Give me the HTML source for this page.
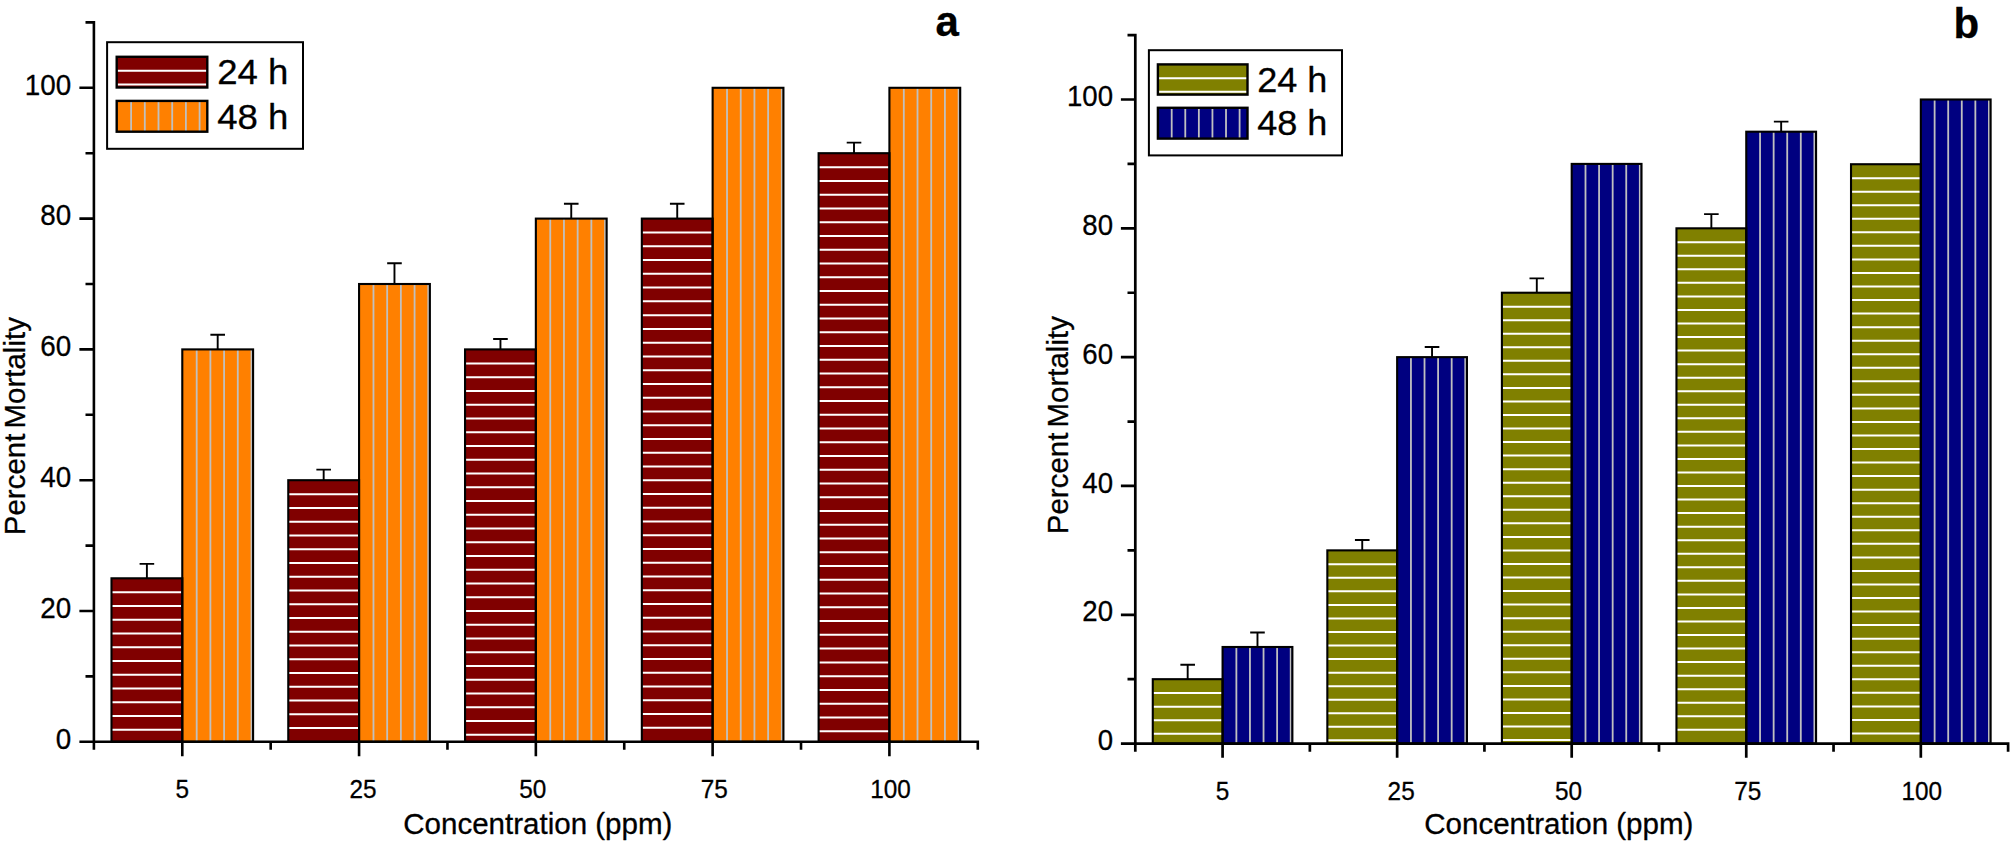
<!DOCTYPE html>
<html lang="en">
<head>
<meta charset="utf-8">
<title>Percent mortality vs concentration</title>
<style>
html,body{margin:0;padding:0;background:#fff;}
body{width:2011px;height:841px;overflow:hidden;}
svg{display:block;}
svg text{font-family:"Liberation Sans", Arial, Helvetica, sans-serif;fill:#000;stroke:#000;stroke-width:.3px;stroke-linejoin:round;}
</style>
</head>
<body>
<svg width="2011" height="841" viewBox="0 0 2011 841">
<rect width="2011" height="841" fill="#fff"/>
<g id="chart-a">
<rect x="111.49" y="578.3" width="70.8" height="163.5" fill="#800000"/>
<path d="M111.49 592.3H182.29M111.49 606.05H182.29M111.49 619.81H182.29M111.49 633.56H182.29M111.49 647.32H182.29M111.49 661.07H182.29M111.49 674.83H182.29M111.49 688.58H182.29M111.49 702.34H182.29M111.49 716.09H182.29M111.49 729.85H182.29" stroke="#ffffff" stroke-width="2.0" fill="none"/>
<rect x="182.29" y="349.4" width="70.8" height="392.4" fill="#ff8000"/>
<path d="M196.69 349.4V741.8M210.39 349.4V741.8M224.09 349.4V741.8M237.79 349.4V741.8M251.49 349.4V741.8" stroke="#c0c0c0" stroke-width="1.8" fill="none"/>
<rect x="111.49" y="578.3" width="70.8" height="163.5" fill="none" stroke="#000" stroke-width="2.1"/>
<rect x="182.29" y="349.4" width="70.8" height="392.4" fill="none" stroke="#000" stroke-width="2.1"/>
<path d="M146.89 578.3V563.9M139.59 563.9H154.19" stroke="#000" stroke-width="1.9" fill="none"/>
<path d="M217.69 349.4V334.7M210.39 334.7H224.99" stroke="#000" stroke-width="1.9" fill="none"/>
<rect x="288.27" y="480.2" width="70.8" height="261.6" fill="#800000"/>
<path d="M288.27 494.2H359.07M288.27 507.95H359.07M288.27 521.71H359.07M288.27 535.46H359.07M288.27 549.22H359.07M288.27 562.97H359.07M288.27 576.73H359.07M288.27 590.48H359.07M288.27 604.24H359.07M288.27 617.99H359.07M288.27 631.75H359.07M288.27 645.5H359.07M288.27 659.26H359.07M288.27 673.01H359.07M288.27 686.77H359.07M288.27 700.52H359.07M288.27 714.28H359.07M288.27 728.03H359.07" stroke="#ffffff" stroke-width="2.0" fill="none"/>
<rect x="359.07" y="284" width="70.8" height="457.8" fill="#ff8000"/>
<path d="M373.47 284V741.8M387.17 284V741.8M400.87 284V741.8M414.57 284V741.8M428.27 284V741.8" stroke="#c0c0c0" stroke-width="1.8" fill="none"/>
<rect x="288.27" y="480.2" width="70.8" height="261.6" fill="none" stroke="#000" stroke-width="2.1"/>
<rect x="359.07" y="284" width="70.8" height="457.8" fill="none" stroke="#000" stroke-width="2.1"/>
<path d="M323.67 480.2V469.6M316.37 469.6H330.97" stroke="#000" stroke-width="1.9" fill="none"/>
<path d="M394.47 284V263.2M387.17 263.2H401.77" stroke="#000" stroke-width="1.9" fill="none"/>
<rect x="465.05" y="349.4" width="70.8" height="392.4" fill="#800000"/>
<path d="M465.05 363.4H535.85M465.05 377.15H535.85M465.05 390.91H535.85M465.05 404.66H535.85M465.05 418.42H535.85M465.05 432.17H535.85M465.05 445.93H535.85M465.05 459.69H535.85M465.05 473.44H535.85M465.05 487.19H535.85M465.05 500.95H535.85M465.05 514.7H535.85M465.05 528.46H535.85M465.05 542.21H535.85M465.05 555.97H535.85M465.05 569.73H535.85M465.05 583.48H535.85M465.05 597.24H535.85M465.05 610.99H535.85M465.05 624.75H535.85M465.05 638.5H535.85M465.05 652.25H535.85M465.05 666.01H535.85M465.05 679.76H535.85M465.05 693.52H535.85M465.05 707.27H535.85M465.05 721.03H535.85M465.05 734.79H535.85" stroke="#ffffff" stroke-width="2.0" fill="none"/>
<rect x="535.85" y="218.6" width="70.8" height="523.2" fill="#ff8000"/>
<path d="M550.25 218.6V741.8M563.95 218.6V741.8M577.65 218.6V741.8M591.35 218.6V741.8M605.05 218.6V741.8" stroke="#c0c0c0" stroke-width="1.8" fill="none"/>
<rect x="465.05" y="349.4" width="70.8" height="392.4" fill="none" stroke="#000" stroke-width="2.1"/>
<rect x="535.85" y="218.6" width="70.8" height="523.2" fill="none" stroke="#000" stroke-width="2.1"/>
<path d="M500.45 349.4V339M493.15 339H507.75" stroke="#000" stroke-width="1.9" fill="none"/>
<path d="M571.25 218.6V203.8M563.95 203.8H578.55" stroke="#000" stroke-width="1.9" fill="none"/>
<rect x="641.83" y="218.6" width="70.8" height="523.2" fill="#800000"/>
<path d="M641.83 232.6H712.63M641.83 246.35H712.63M641.83 260.11H712.63M641.83 273.86H712.63M641.83 287.62H712.63M641.83 301.37H712.63M641.83 315.13H712.63M641.83 328.88H712.63M641.83 342.64H712.63M641.83 356.39H712.63M641.83 370.15H712.63M641.83 383.9H712.63M641.83 397.66H712.63M641.83 411.41H712.63M641.83 425.17H712.63M641.83 438.92H712.63M641.83 452.68H712.63M641.83 466.43H712.63M641.83 480.19H712.63M641.83 493.94H712.63M641.83 507.7H712.63M641.83 521.45H712.63M641.83 535.21H712.63M641.83 548.96H712.63M641.83 562.72H712.63M641.83 576.47H712.63M641.83 590.23H712.63M641.83 603.98H712.63M641.83 617.74H712.63M641.83 631.49H712.63M641.83 645.25H712.63M641.83 659H712.63M641.83 672.76H712.63M641.83 686.51H712.63M641.83 700.27H712.63M641.83 714.02H712.63M641.83 727.78H712.63" stroke="#ffffff" stroke-width="2.0" fill="none"/>
<rect x="712.63" y="87.8" width="70.8" height="654" fill="#ff8000"/>
<path d="M727.03 87.8V741.8M740.73 87.8V741.8M754.43 87.8V741.8M768.13 87.8V741.8M781.83 87.8V741.8" stroke="#c0c0c0" stroke-width="1.8" fill="none"/>
<rect x="641.83" y="218.6" width="70.8" height="523.2" fill="none" stroke="#000" stroke-width="2.1"/>
<rect x="712.63" y="87.8" width="70.8" height="654" fill="none" stroke="#000" stroke-width="2.1"/>
<path d="M677.23 218.6V203.8M669.93 203.8H684.53" stroke="#000" stroke-width="1.9" fill="none"/>
<rect x="818.61" y="153.2" width="70.8" height="588.6" fill="#800000"/>
<path d="M818.61 167.2H889.41M818.61 180.95H889.41M818.61 194.71H889.41M818.61 208.46H889.41M818.61 222.22H889.41M818.61 235.97H889.41M818.61 249.73H889.41M818.61 263.48H889.41M818.61 277.24H889.41M818.61 290.99H889.41M818.61 304.75H889.41M818.61 318.5H889.41M818.61 332.26H889.41M818.61 346.01H889.41M818.61 359.77H889.41M818.61 373.52H889.41M818.61 387.28H889.41M818.61 401.03H889.41M818.61 414.79H889.41M818.61 428.54H889.41M818.61 442.3H889.41M818.61 456.05H889.41M818.61 469.81H889.41M818.61 483.56H889.41M818.61 497.32H889.41M818.61 511.07H889.41M818.61 524.83H889.41M818.61 538.59H889.41M818.61 552.34H889.41M818.61 566.1H889.41M818.61 579.85H889.41M818.61 593.61H889.41M818.61 607.36H889.41M818.61 621.12H889.41M818.61 634.87H889.41M818.61 648.62H889.41M818.61 662.38H889.41M818.61 676.13H889.41M818.61 689.89H889.41M818.61 703.64H889.41M818.61 717.4H889.41M818.61 731.15H889.41" stroke="#ffffff" stroke-width="2.0" fill="none"/>
<rect x="889.41" y="87.8" width="70.8" height="654" fill="#ff8000"/>
<path d="M903.81 87.8V741.8M917.51 87.8V741.8M931.21 87.8V741.8M944.91 87.8V741.8M958.61 87.8V741.8" stroke="#c0c0c0" stroke-width="1.8" fill="none"/>
<rect x="818.61" y="153.2" width="70.8" height="588.6" fill="none" stroke="#000" stroke-width="2.1"/>
<rect x="889.41" y="87.8" width="70.8" height="654" fill="none" stroke="#000" stroke-width="2.1"/>
<path d="M854.01 153.2V142.6M846.71 142.6H861.31" stroke="#000" stroke-width="1.9" fill="none"/>
<path d="M79.4 741.8H979.1M93.9 21.1V749.7M182.29 741.8V756.2M270.68 741.8V749.7M359.07 741.8V756.2M447.46 741.8V749.7M535.85 741.8V756.2M624.24 741.8V749.7M712.63 741.8V756.2M801.02 741.8V749.7M889.41 741.8V756.2M977.8 741.8V749.7M93.9 676.4H85.5M93.9 611H79.4M93.9 545.6H85.5M93.9 480.2H79.4M93.9 414.8H85.5M93.9 349.4H79.4M93.9 284H85.5M93.9 218.6H79.4M93.9 153.2H85.5M93.9 87.8H79.4M93.9 22.4H85.5" stroke="#000" stroke-width="2.6" fill="none"/>
<text transform="translate(71.1 748.6) scale(0.965 1)" font-size="28.8" text-anchor="end">0</text>
<text transform="translate(71.1 617.8) scale(0.965 1)" font-size="28.8" text-anchor="end">20</text>
<text transform="translate(71.1 487) scale(0.965 1)" font-size="28.8" text-anchor="end">40</text>
<text transform="translate(71.1 356.2) scale(0.965 1)" font-size="28.8" text-anchor="end">60</text>
<text transform="translate(71.1 225.4) scale(0.965 1)" font-size="28.8" text-anchor="end">80</text>
<text transform="translate(71.1 94.6) scale(0.965 1)" font-size="28.8" text-anchor="end">100</text>
<text transform="translate(182.29 798.3) scale(0.965 1)" font-size="25.2" text-anchor="middle">5</text>
<text transform="translate(363.07 798.3) scale(0.965 1)" font-size="25.2" text-anchor="middle">25</text>
<text transform="translate(532.65 798.3) scale(0.965 1)" font-size="25.2" text-anchor="middle">50</text>
<text transform="translate(714.23 798.3) scale(0.965 1)" font-size="25.2" text-anchor="middle">75</text>
<text transform="translate(890.41 798.3) scale(0.965 1)" font-size="25.2" text-anchor="middle">100</text>
<text transform="translate(403.2 833.8) scale(0.998 1)" font-size="29.6">Concentration (ppm)</text>
<text transform="translate(25.2 535.2) rotate(-90) scale(0.989 1)" font-size="29.8" word-spacing="-3">Percent Mortality</text>
<text transform="translate(935.5 36.2)" font-size="42" font-weight="bold">a</text>
<rect x="107.1" y="42.2" width="195.9" height="106.6" fill="#fff" stroke="#000" stroke-width="2.0"/>
<rect x="116.7" y="56.8" width="90.6" height="30.7" fill="#800000"/>
<path d="M116.7 70.8H207.3M116.7 84.55H207.3" stroke="#ffffff" stroke-width="2.0" fill="none"/>
<rect x="116.7" y="56.8" width="90.6" height="30.7" fill="none" stroke="#000" stroke-width="2.4"/>
<text transform="translate(217.2 83.7) scale(1.03 1)" font-size="35.5">24 h</text>
<rect x="116.7" y="100.9" width="90.6" height="30.8" fill="#ff8000"/>
<path d="M131.1 100.9V131.7M144.8 100.9V131.7M158.5 100.9V131.7M172.2 100.9V131.7M185.9 100.9V131.7M199.6 100.9V131.7" stroke="#c0c0c0" stroke-width="1.8" fill="none"/>
<rect x="116.7" y="100.9" width="90.6" height="30.8" fill="none" stroke="#000" stroke-width="2.4"/>
<text transform="translate(217.2 128.7) scale(1.03 1)" font-size="35.5">48 h</text>
</g>
<g id="chart-b">
<rect x="1152.78" y="679.19" width="69.8" height="64.41" fill="#808000"/>
<path d="M1152.78 693.09H1222.58M1152.78 706.63H1222.58M1152.78 720.18H1222.58M1152.78 733.73H1222.58" stroke="#ffffff" stroke-width="2.0" fill="none"/>
<rect x="1222.58" y="646.99" width="69.8" height="96.62" fill="#000080"/>
<path d="M1236.38 646.99V743.6M1249.96 646.99V743.6M1263.54 646.99V743.6M1277.12 646.99V743.6M1290.7 646.99V743.6" stroke="#c0c0c0" stroke-width="1.8" fill="none"/>
<rect x="1152.78" y="679.19" width="69.8" height="64.41" fill="none" stroke="#000" stroke-width="2.1"/>
<rect x="1222.58" y="646.99" width="69.8" height="96.62" fill="none" stroke="#000" stroke-width="2.1"/>
<path d="M1187.68 679.19V664.69M1180.38 664.69H1194.98" stroke="#000" stroke-width="1.9" fill="none"/>
<path d="M1257.48 646.99V632.49M1250.18 632.49H1264.78" stroke="#000" stroke-width="1.9" fill="none"/>
<rect x="1327.34" y="550.37" width="69.8" height="193.23" fill="#808000"/>
<path d="M1327.34 564.27H1397.14M1327.34 577.81H1397.14M1327.34 591.36H1397.14M1327.34 604.9H1397.14M1327.34 618.45H1397.14M1327.34 632H1397.14M1327.34 645.54H1397.14M1327.34 659.09H1397.14M1327.34 672.63H1397.14M1327.34 686.17H1397.14M1327.34 699.72H1397.14M1327.34 713.26H1397.14M1327.34 726.81H1397.14M1327.34 740.36H1397.14" stroke="#ffffff" stroke-width="2.0" fill="none"/>
<rect x="1397.14" y="357.14" width="69.8" height="386.46" fill="#000080"/>
<path d="M1410.94 357.14V743.6M1424.52 357.14V743.6M1438.1 357.14V743.6M1451.68 357.14V743.6M1465.26 357.14V743.6" stroke="#c0c0c0" stroke-width="1.8" fill="none"/>
<rect x="1327.34" y="550.37" width="69.8" height="193.23" fill="none" stroke="#000" stroke-width="2.1"/>
<rect x="1397.14" y="357.14" width="69.8" height="386.46" fill="none" stroke="#000" stroke-width="2.1"/>
<path d="M1362.24 550.37V540.07M1354.94 540.07H1369.54" stroke="#000" stroke-width="1.9" fill="none"/>
<path d="M1432.04 357.14V347.04M1424.74 347.04H1439.34" stroke="#000" stroke-width="1.9" fill="none"/>
<rect x="1501.9" y="292.73" width="69.8" height="450.87" fill="#808000"/>
<path d="M1501.9 306.63H1571.7M1501.9 320.18H1571.7M1501.9 333.72H1571.7M1501.9 347.26H1571.7M1501.9 360.81H1571.7M1501.9 374.36H1571.7M1501.9 387.9H1571.7M1501.9 401.44H1571.7M1501.9 414.99H1571.7M1501.9 428.53H1571.7M1501.9 442.08H1571.7M1501.9 455.62H1571.7M1501.9 469.17H1571.7M1501.9 482.72H1571.7M1501.9 496.26H1571.7M1501.9 509.81H1571.7M1501.9 523.35H1571.7M1501.9 536.89H1571.7M1501.9 550.44H1571.7M1501.9 563.99H1571.7M1501.9 577.53H1571.7M1501.9 591.08H1571.7M1501.9 604.62H1571.7M1501.9 618.16H1571.7M1501.9 631.71H1571.7M1501.9 645.25H1571.7M1501.9 658.8H1571.7M1501.9 672.35H1571.7M1501.9 685.89H1571.7M1501.9 699.43H1571.7M1501.9 712.98H1571.7M1501.9 726.52H1571.7M1501.9 740.07H1571.7" stroke="#ffffff" stroke-width="2.0" fill="none"/>
<rect x="1571.7" y="163.91" width="69.8" height="579.69" fill="#000080"/>
<path d="M1585.5 163.91V743.6M1599.08 163.91V743.6M1612.66 163.91V743.6M1626.24 163.91V743.6M1639.82 163.91V743.6" stroke="#c0c0c0" stroke-width="1.8" fill="none"/>
<rect x="1501.9" y="292.73" width="69.8" height="450.87" fill="none" stroke="#000" stroke-width="2.1"/>
<rect x="1571.7" y="163.91" width="69.8" height="579.69" fill="none" stroke="#000" stroke-width="2.1"/>
<path d="M1536.8 292.73V278.33M1529.5 278.33H1544.1" stroke="#000" stroke-width="1.9" fill="none"/>
<rect x="1676.46" y="228.32" width="69.8" height="515.28" fill="#808000"/>
<path d="M1676.46 242.22H1746.26M1676.46 255.77H1746.26M1676.46 269.31H1746.26M1676.46 282.86H1746.26M1676.46 296.4H1746.26M1676.46 309.95H1746.26M1676.46 323.49H1746.26M1676.46 337.04H1746.26M1676.46 350.58H1746.26M1676.46 364.13H1746.26M1676.46 377.67H1746.26M1676.46 391.22H1746.26M1676.46 404.76H1746.26M1676.46 418.31H1746.26M1676.46 431.85H1746.26M1676.46 445.4H1746.26M1676.46 458.94H1746.26M1676.46 472.49H1746.26M1676.46 486.03H1746.26M1676.46 499.58H1746.26M1676.46 513.12H1746.26M1676.46 526.67H1746.26M1676.46 540.21H1746.26M1676.46 553.76H1746.26M1676.46 567.3H1746.26M1676.46 580.85H1746.26M1676.46 594.39H1746.26M1676.46 607.94H1746.26M1676.46 621.48H1746.26M1676.46 635.03H1746.26M1676.46 648.57H1746.26M1676.46 662.12H1746.26M1676.46 675.66H1746.26M1676.46 689.21H1746.26M1676.46 702.75H1746.26M1676.46 716.3H1746.26M1676.46 729.84H1746.26" stroke="#ffffff" stroke-width="2.0" fill="none"/>
<rect x="1746.26" y="131.71" width="69.8" height="611.89" fill="#000080"/>
<path d="M1760.06 131.71V743.6M1773.64 131.71V743.6M1787.22 131.71V743.6M1800.8 131.71V743.6M1814.38 131.71V743.6" stroke="#c0c0c0" stroke-width="1.8" fill="none"/>
<rect x="1676.46" y="228.32" width="69.8" height="515.28" fill="none" stroke="#000" stroke-width="2.1"/>
<rect x="1746.26" y="131.71" width="69.8" height="611.89" fill="none" stroke="#000" stroke-width="2.1"/>
<path d="M1711.36 228.32V214.12M1704.06 214.12H1718.66" stroke="#000" stroke-width="1.9" fill="none"/>
<path d="M1781.16 131.71V121.61M1773.86 121.61H1788.46" stroke="#000" stroke-width="1.9" fill="none"/>
<rect x="1851.02" y="164.23" width="69.8" height="579.37" fill="#808000"/>
<path d="M1851.02 178.13H1920.82M1851.02 191.68H1920.82M1851.02 205.22H1920.82M1851.02 218.77H1920.82M1851.02 232.31H1920.82M1851.02 245.86H1920.82M1851.02 259.4H1920.82M1851.02 272.95H1920.82M1851.02 286.49H1920.82M1851.02 300.04H1920.82M1851.02 313.58H1920.82M1851.02 327.13H1920.82M1851.02 340.67H1920.82M1851.02 354.22H1920.82M1851.02 367.76H1920.82M1851.02 381.31H1920.82M1851.02 394.85H1920.82M1851.02 408.4H1920.82M1851.02 421.94H1920.82M1851.02 435.49H1920.82M1851.02 449.03H1920.82M1851.02 462.58H1920.82M1851.02 476.12H1920.82M1851.02 489.67H1920.82M1851.02 503.21H1920.82M1851.02 516.76H1920.82M1851.02 530.3H1920.82M1851.02 543.85H1920.82M1851.02 557.39H1920.82M1851.02 570.94H1920.82M1851.02 584.48H1920.82M1851.02 598.03H1920.82M1851.02 611.57H1920.82M1851.02 625.12H1920.82M1851.02 638.66H1920.82M1851.02 652.21H1920.82M1851.02 665.75H1920.82M1851.02 679.3H1920.82M1851.02 692.84H1920.82M1851.02 706.39H1920.82M1851.02 719.93H1920.82M1851.02 733.48H1920.82" stroke="#ffffff" stroke-width="2.0" fill="none"/>
<rect x="1920.82" y="99.5" width="69.8" height="644.1" fill="#000080"/>
<path d="M1934.62 99.5V743.6M1948.2 99.5V743.6M1961.78 99.5V743.6M1975.36 99.5V743.6M1988.94 99.5V743.6" stroke="#c0c0c0" stroke-width="1.8" fill="none"/>
<rect x="1851.02" y="164.23" width="69.8" height="579.37" fill="none" stroke="#000" stroke-width="2.1"/>
<rect x="1920.82" y="99.5" width="69.8" height="644.1" fill="none" stroke="#000" stroke-width="2.1"/>
<path d="M1120.9 743.6H2009.45M1135.3 33.74V751.7M1222.58 743.6V757.8M1309.86 743.6V751.7M1397.14 743.6V757.8M1484.42 743.6V751.7M1571.7 743.6V757.8M1658.98 743.6V751.7M1746.26 743.6V757.8M1833.54 743.6V751.7M1920.82 743.6V757.8M2008.1 743.6V751.7M1135.3 679.19H1127.5M1135.3 614.78H1120.9M1135.3 550.37H1127.5M1135.3 485.96H1120.9M1135.3 421.55H1127.5M1135.3 357.14H1120.9M1135.3 292.73H1127.5M1135.3 228.32H1120.9M1135.3 163.91H1127.5M1135.3 99.5H1120.9M1135.3 35.09H1127.5" stroke="#000" stroke-width="2.7" fill="none"/>
<text transform="translate(1113 750.3) scale(0.965 1)" font-size="28.6" text-anchor="end">0</text>
<text transform="translate(1113 621.48) scale(0.965 1)" font-size="28.6" text-anchor="end">20</text>
<text transform="translate(1113 492.66) scale(0.965 1)" font-size="28.6" text-anchor="end">40</text>
<text transform="translate(1113 363.84) scale(0.965 1)" font-size="28.6" text-anchor="end">60</text>
<text transform="translate(1113 235.02) scale(0.965 1)" font-size="28.6" text-anchor="end">80</text>
<text transform="translate(1113 106.2) scale(0.965 1)" font-size="28.6" text-anchor="end">100</text>
<text transform="translate(1222.58 799.6) scale(0.965 1)" font-size="25.2" text-anchor="middle">5</text>
<text transform="translate(1401.14 799.6) scale(0.965 1)" font-size="25.2" text-anchor="middle">25</text>
<text transform="translate(1568.5 799.6) scale(0.965 1)" font-size="25.2" text-anchor="middle">50</text>
<text transform="translate(1747.86 799.6) scale(0.965 1)" font-size="25.2" text-anchor="middle">75</text>
<text transform="translate(1921.82 799.6) scale(0.965 1)" font-size="25.2" text-anchor="middle">100</text>
<text transform="translate(1424.2 833.8) scale(0.998 1)" font-size="29.6">Concentration (ppm)</text>
<text transform="translate(1068.2 534.2) rotate(-90) scale(0.989 1)" font-size="29.8" word-spacing="-3">Percent Mortality</text>
<text transform="translate(1953.4 37.7)" font-size="42" font-weight="bold">b</text>
<rect x="1148.9" y="50.2" width="193.1" height="105.2" fill="#fff" stroke="#000" stroke-width="2.0"/>
<rect x="1157.9" y="64.4" width="89.6" height="30.2" fill="#808000"/>
<path d="M1157.9 78.3H1247.5M1157.9 91.85H1247.5" stroke="#ffffff" stroke-width="2.0" fill="none"/>
<rect x="1157.9" y="64.4" width="89.6" height="30.2" fill="none" stroke="#000" stroke-width="2.4"/>
<text transform="translate(1257.2 91.6) scale(1.025 1)" font-size="35.2">24 h</text>
<rect x="1157.9" y="107.8" width="89.6" height="30.8" fill="#000080"/>
<path d="M1171.7 107.8V138.6M1185.28 107.8V138.6M1198.86 107.8V138.6M1212.44 107.8V138.6M1226.02 107.8V138.6M1239.6 107.8V138.6" stroke="#c0c0c0" stroke-width="1.8" fill="none"/>
<rect x="1157.9" y="107.8" width="89.6" height="30.8" fill="none" stroke="#000" stroke-width="2.4"/>
<text transform="translate(1257.2 135.3) scale(1.025 1)" font-size="35.2">48 h</text>
</g>
</svg>
</body>
</html>
